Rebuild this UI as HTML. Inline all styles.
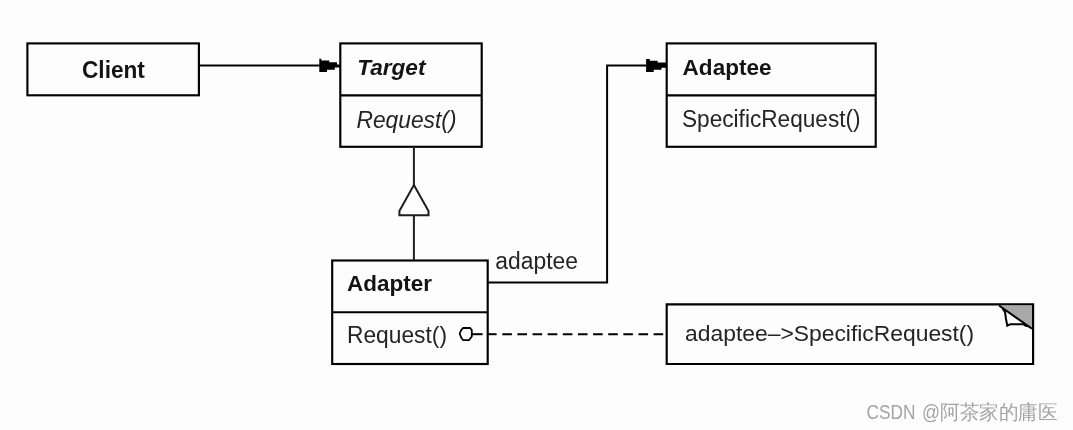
<!DOCTYPE html>
<html><head><meta charset="utf-8">
<style>
html,body{margin:0;padding:0;background:#fff;}
body{width:1073px;height:430px;overflow:hidden;position:relative;}
svg{position:absolute;left:0;top:0;will-change:transform;}
text{font-family:"Liberation Sans",sans-serif;fill:#242424;}
.b{fill:#141414;}
.b{font-weight:bold;}
.i{font-style:italic;}
</style></head><body>
<svg width="1073" height="430" viewBox="0 0 1073 430">
<rect x="0" y="0" width="1073" height="430" fill="#fdfdfd"/>
<g fill="none" stroke="#000" stroke-width="2.15">
  <!-- Client -->
  <rect x="27.4" y="43.4" width="171.5" height="51.9"/>
  <!-- Target -->
  <rect x="340.3" y="43.4" width="141.4" height="103.4"/>
  <line x1="340.3" y1="95.4" x2="481.7" y2="95.4"/>
  <!-- Adaptee -->
  <rect x="666.7" y="43.4" width="209" height="103.4"/>
  <line x1="666.7" y1="95.4" x2="875.7" y2="95.4"/>
  <!-- Adapter -->
  <rect x="332.2" y="260.5" width="155.5" height="103.5"/>
  <line x1="332.2" y1="312.2" x2="487.7" y2="312.2"/>
  <!-- Note -->
  <path d="M666.7 304.4 H1033.1 V364 H666.7 Z"/>
</g>
<g fill="none" stroke="#000" stroke-width="2">
  <!-- client -> target -->
  <line x1="199" y1="65.4" x2="322" y2="65.4"/>
  <!-- adapter -> adaptee -->
  <path d="M487.7 282.4 H607.1 V65.4 H648"/>
</g>
<!-- arrowheads -->
<g fill="#000">
  <path d="M319.3 58.7 H321.3 V60.6 H329.2 V62.3 H337 V64.4 H340 V67.5 H334.8 V69.7 H327 V72.1 H319.3 Z"/>
  <path d="M646.1 58.9 H649.8 V60.8 H657.6 V62.6 H666.5 V67.7 H661.5 V69.65 H653.7 V72.1 H646.1 Z"/>
</g>
<!-- generalization -->
<g fill="none" stroke="#1e1e1e" stroke-width="2">
  <line x1="413.9" y1="146.8" x2="413.9" y2="185"/>
  <line x1="413.9" y1="215" x2="413.9" y2="260.5"/>
  <path d="M413.9 185 L428.5 211 V215.2 H399.4 V211 Z"/>
</g>
<!-- lollipop + dashed -->
<g fill="none" stroke="#000" stroke-width="2">
  <path d="M463.2 328 H470 L471.8 330 V336.5 L469 340.2 H463.2 L461.3 337.8 L459.7 333.5 L461.3 330 Z" stroke-width="1.8"/>
  <line x1="471.8" y1="334.2" x2="482.6" y2="334.2"/>
  <line x1="487.7" y1="334.2" x2="496.6" y2="334.2"/>
  <line x1="502.3" y1="334.3" x2="664" y2="334.3" stroke-dasharray="9.6 5.53"/>
</g>
<!-- note corner -->
<path d="M999 305.5 L1032 305.5 L1032 328.5 Z" fill="#a8a8a8"/>
<g fill="none" stroke="#000" stroke-width="2">
  <line x1="999" y1="305.5" x2="1032" y2="328.8"/>
  <path d="M1002.7 308.8 L1005 312 L1006 319 L1007.3 325.7 L1010.4 324.2 H1023.4 L1025.7 325.7 L1029 326.3"/>
</g>
<!-- texts -->
<text class="b" x="82" y="77.9" font-size="23" textLength="62.9" lengthAdjust="spacingAndGlyphs">Client</text>
<text class="b i" x="357.2" y="75.4" font-size="22.3" textLength="68.3" lengthAdjust="spacingAndGlyphs">Target</text>
<text class="i" x="356.5" y="127.6" font-size="23.2" textLength="100" lengthAdjust="spacingAndGlyphs">Request()</text>
<text class="b" x="682.6" y="75.0" font-size="21.8" textLength="88.9" lengthAdjust="spacingAndGlyphs">Adaptee</text>
<text x="682" y="127.4" font-size="23" textLength="178.6" lengthAdjust="spacingAndGlyphs">SpecificRequest()</text>
<text x="495.3" y="269" font-size="23" textLength="82.6" lengthAdjust="spacingAndGlyphs">adaptee</text>
<text class="b" x="347.1" y="290.6" font-size="22.4" textLength="84.9" lengthAdjust="spacingAndGlyphs">Adapter</text>
<text x="347" y="343.2" font-size="23.2" textLength="100" lengthAdjust="spacingAndGlyphs">Request()</text>
<text x="685.1" y="341.2" font-size="22" textLength="289" lengthAdjust="spacingAndGlyphs">adaptee–&gt;SpecificRequest()</text>
<g style="fill:#a4a4a4">
<text x="866.5" y="418.8" font-size="20" style="fill:#a4a4a4" textLength="49" lengthAdjust="spacingAndGlyphs">CSDN</text>
<text x="922" y="418.8" font-size="20" style="fill:#a4a4a4" textLength="18" lengthAdjust="spacingAndGlyphs">@</text>
<text x="940" y="418.8" font-size="19.6" style="fill:#a4a4a4" textLength="117.5" lengthAdjust="spacingAndGlyphs">阿茶家的庸医</text>
</g>
</svg>
</body></html>
